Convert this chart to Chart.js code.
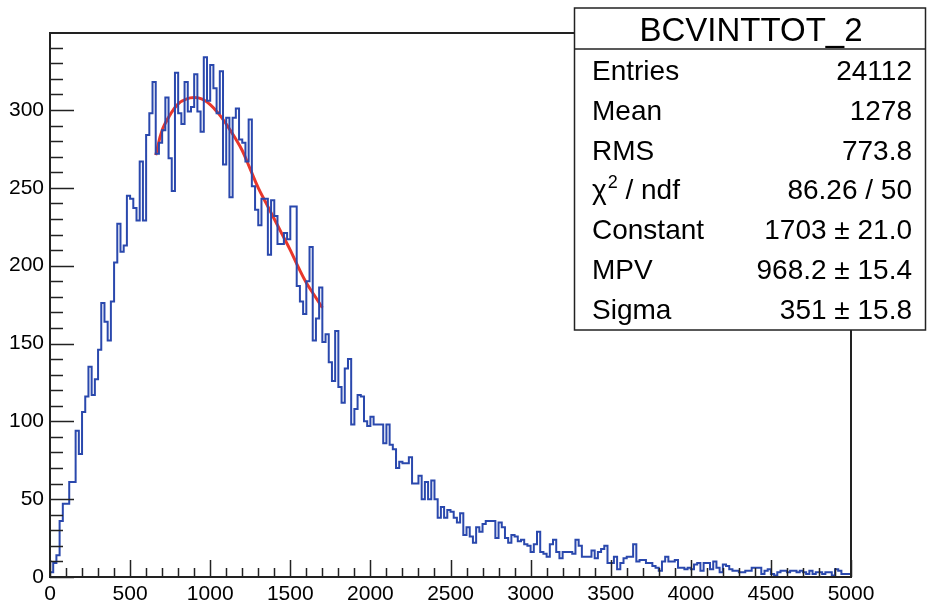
<!DOCTYPE html>
<html>
<head>
<meta charset="utf-8">
<script src="https://cdn.jsdelivr.net/npm/chart.js@4.4.1/dist/chart.umd.min.js"></script>
<style>
  html, body { margin: 0; padding: 0; background: #fff; }
  #wrap { width: 927px; height: 605px; }
</style>
</head>
<body>
<div id="wrap"><canvas id="histo" width="927" height="605"></canvas></div>
<script>
// BCVINTTOT_2 histogram, 250 bins of width 20 from 0 to 5000
const binWidth = 20;
const xMin = 0;
const xMax = 5000;
const yMax = 349.5;

const counts = [
  1, 3, 9, 14, 36, 47, 47, 61, 61, 94,
  79, 106, 116, 135, 117, 127, 146, 176, 164, 152,
  177, 202, 227, 209, 213, 245, 243, 237, 229, 267,
  229, 284, 298, 318, 272, 279, 287, 308, 269, 248,
  324, 298, 291, 318, 299, 302, 323, 299, 286, 334,
  306, 329, 314, 298, 325, 265, 295, 244, 295, 301,
  281, 279, 267, 294, 251, 236, 226, 243, 243, 207,
  242, 232, 214, 214, 221, 217, 238, 238, 187, 177,
  169, 190, 212, 152, 166, 186, 151, 156, 138, 126,
  158, 122, 112, 134, 140, 98, 108, 117, 116, 100,
  97, 103, 98, 98, 98, 86, 98, 85, 82, 70,
  74, 73, 73, 77, 60, 60, 65, 50, 61, 50,
  62, 50, 38, 45, 38, 43, 42, 38, 35, 41,
  27, 32, 26, 22, 32, 29, 34, 36, 36, 36,
  25, 35, 32, 25, 22, 27, 26, 23, 24, 21,
  20, 16, 21, 29, 16, 15, 13, 21, 24, 16,
  12, 16, 16, 16, 15, 24, 20, 13, 13, 13,
  17, 12, 16, 18, 20, 9, 9, 13, 5, 9,
  12, 13, 13, 21, 10, 11, 11, 9, 9, 7,
  6, 4, 10, 13, 10, 10, 11, 6, 6, 5,
  6, 5, 8, 9, 4, 9, 9, 5, 10, 6,
  3, 8, 7, 5, 4, 4, 3, 3, 4, 4,
  6, 6, 6, 2, 4, 5, 2, 1, 3, 4,
  4, 3, 4, 4, 3, 4, 3, 2, 4, 2,
  3, 3, 2, 3, 3, 1, 5, 4, 2, 2
];

// axis labels
const xTickValues = [0, 500, 1000, 1500, 2000, 2500, 3000, 3500, 4000, 4500, 5000];
const yTickValues = [0, 50, 100, 150, 200, 250, 300];

// Landau fit curve, sampled along the fit range
const fitX = [660, 700, 750, 800, 850, 900, 950, 1000, 1050, 1100, 1150,
              1200, 1250, 1300, 1350, 1400, 1450, 1500, 1550, 1600, 1650, 1700];
const fitY = [271, 287, 297, 304, 307, 308, 307, 303.5, 298, 291, 283,
              274, 262, 250, 240, 230, 220, 210, 199, 189, 181, 173];

// stats box
const statTitle = 'BCVINTTOT_2';
const statNames = ['Entries', 'Mean', 'RMS', 'CHI2', 'Constant', 'MPV', 'Sigma'];
const statValues = ['24112', '1278', '773.8', '86.26 / 50', '1703 \u00B1 21.0', '968.2 \u00B1 15.4', '351 \u00B1 15.8'];

const FONT = "'Liberation Sans', Arial, Helvetica, sans-serif";

// step outline: each bin's low edge, plus the closing edge at xMax
const histPoints = counts.map((c, i) => ({ x: xMin + i * binWidth, y: c }));
histPoints.push({ x: xMax, y: counts[counts.length - 1] });

const fitPoints = fitX.map((x, i) => ({ x: x, y: fitY[i] }));

// frame, inward ticks and the stats panel, ROOT style
const rootDecor = {
  id: 'rootDecor',
  afterDraw(chart) {
    const { ctx, chartArea: a, scales } = chart;
    const xs = scales.x, ys = scales.y;
    ctx.save();
    ctx.strokeStyle = '#222';
    ctx.lineWidth = 1.5;
    ctx.beginPath();
    for (let v = 0; v <= yMax; v += 10) {
      const py = Math.round(ys.getPixelForValue(v)) + 0.5;
      const len = v % 50 === 0 ? 24 : 13;
      ctx.moveTo(a.left, py);
      ctx.lineTo(a.left + len, py);
    }
    for (let v = xMin; v <= xMax; v += 100) {
      const px = Math.round(xs.getPixelForValue(v)) + 0.5;
      const len = v % 500 === 0 ? 17 : 9;
      ctx.moveTo(px, a.bottom);
      ctx.lineTo(px, a.bottom - len);
    }
    ctx.stroke();
    ctx.lineWidth = 2;
    ctx.strokeRect(a.left, a.top, a.right - a.left, a.bottom - a.top);

    // stats box
    const bx = 574.5, by = 8, bw = 351, bh = 322;
    ctx.fillStyle = '#fff';
    ctx.fillRect(bx, by, bw, bh);
    ctx.lineWidth = 1.5;
    ctx.strokeRect(bx, by, bw, bh);
    ctx.beginPath();
    ctx.moveTo(bx, 49);
    ctx.lineTo(bx + bw, 49);
    ctx.stroke();

    ctx.fillStyle = '#000';
    ctx.textBaseline = 'alphabetic';
    ctx.font = '33px ' + FONT;
    ctx.textAlign = 'center';
    ctx.fillText(statTitle, 751, 41);

    ctx.font = '28px ' + FONT;
    statNames.forEach((name, i) => {
      const base = 80 + i * 39.8;
      ctx.textAlign = 'left';
      if (name === 'CHI2') {
        ctx.fillText('\u03C7', 592, base);
        const w = ctx.measureText('\u03C7').width;
        ctx.font = '18px ' + FONT;
        ctx.fillText('2', 592 + w + 1, base - 11);
        ctx.font = '28px ' + FONT;
        ctx.fillText(' / ndf', 592 + w + 11, base);
      } else {
        ctx.fillText(name, 592, base);
      }
      ctx.textAlign = 'right';
      ctx.fillText(statValues[i], 912, base);
    });
    ctx.restore();
  }
};

new Chart(document.getElementById('histo'), {
  type: 'line',
  data: {
    datasets: [
      {
        label: 'BCVINTTOT_2',
        data: histPoints,
        stepped: 'after',
        borderColor: '#2a48ad',
        borderWidth: 2,
        pointRadius: 0,
        fill: false
      },
      {
        label: 'landau',
        data: fitPoints,
        borderColor: '#e8372b',
        borderWidth: 3,
        tension: 0.4,
        pointRadius: 0,
        fill: false
      }
    ]
  },
  options: {
    responsive: false,
    animation: false,
    layout: { padding: { top: 33, right: 76, left: 0, bottom: 0 } },
    plugins: {
      legend: { display: false },
      tooltip: { enabled: false }
    },
    scales: {
      x: {
        type: 'linear',
        min: xMin,
        max: xMax,
        grid: { display: false, drawTicks: false },
        border: { display: false },
        afterBuildTicks: s => { s.ticks = xTickValues.map(v => ({ value: v })); },
        ticks: {
          maxRotation: 0,
          autoSkip: false,
          padding: 5,
          color: '#000',
          font: { family: FONT, size: 21 },
          callback: v => String(v)
        },
        afterFit: s => { s.height = 28; }
      },
      y: {
        min: 0,
        max: yMax,
        grid: { display: false, drawTicks: false },
        border: { display: false },
        afterBuildTicks: s => { s.ticks = yTickValues.map(v => ({ value: v })); },
        ticks: {
          autoSkip: false,
          padding: 6,
          color: '#000',
          font: { family: FONT, size: 21 },
          callback: v => String(v)
        },
        afterFit: s => { s.width = 50; }
      }
    }
  },
  plugins: [rootDecor]
});
</script>
</body>
</html>
